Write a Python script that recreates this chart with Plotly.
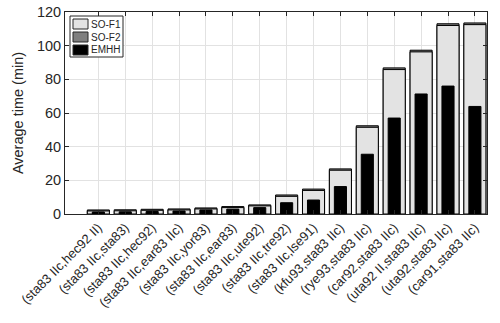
import plotly.graph_objects as go

categories = [
    "(sta83 IIc,hec92 II)", "(sta83 IIc,sta83)", "(sta83 IIc,hec92)",
    "(sta83 IIc,ear83 IIc)", "(sta83 IIc,yor83)", "(sta83 IIc,ear83)",
    "(sta83 IIc,ute92)", "(sta83 IIc,tre92)", "(sta83 IIc,lse91)",
    "(kfu93,sta83 IIc)", "(rye93,sta83 IIc)", "(car92,sta83 IIc)",
    "(uta92 II,sta83 IIc)", "(uta92,sta83 IIc)", "(car91,sta83 IIc)",
]
so_f1 = [1.8, 1.9, 2.2, 2.4, 3.0, 3.8, 4.8, 10.5, 14.0, 26.0, 51.5, 85.8, 96.3, 112.0, 112.5]
so_f2 = [2.4, 2.5, 2.8, 3.0, 3.6, 4.4, 5.4, 11.3, 14.8, 26.8, 52.4, 86.8, 97.3, 113.0, 113.5]
emhh = [1.2, 1.3, 1.5, 1.8, 2.4, 2.9, 3.8, 6.7, 8.3, 16.3, 35.5, 57.0, 71.3, 76.0, 63.9]
y_ticks = [0, 20, 40, 60, 80, 100, 120]
series_names = ["SO-F1", "SO-F2", "EMHH"]
series_colors = ["#e3e3e3", "#7f7f7f", "#000000"]

axis_color = "#262626"
W, H = 500, 323
ML, MR, MT, MB = 65, 13, 12, 109
PW, PH = W - ML - MR, H - MT - MB


def px(x):
    return (x - ML) / PW


def py(y):
    return (H - MB - y) / PH


fig = go.Figure()
fig.add_trace(go.Bar(x=categories, y=so_f2, name="SO-F2", width=0.82,
                     marker=dict(color=series_colors[1], line=dict(color="black", width=1))))
fig.add_trace(go.Bar(x=categories, y=so_f1, name="SO-F1", width=0.82,
                     marker=dict(color=series_colors[0], line=dict(color="black", width=1))))
fig.add_trace(go.Bar(x=categories, y=emhh, name="EMHH", width=0.45,
                     marker=dict(color=series_colors[2], line=dict(color="black", width=1))))

# Custom compact legend (MATLAB style)
shapes = [dict(type="rect", xref="paper", yref="paper",
               x0=px(70), x1=px(123), y0=py(57), y1=py(16),
               line=dict(color=axis_color, width=1), fillcolor="white", layer="above")]
annotations = []
for i, (nm, col) in enumerate(zip(series_names, series_colors)):
    cy = 24 + i * 13
    shapes.append(dict(type="rect", xref="paper", yref="paper",
                       x0=px(73), x1=px(88), y0=py(cy + 5), y1=py(cy - 5),
                       line=dict(color=axis_color, width=1), fillcolor=col, layer="above"))
    annotations.append(dict(text=nm, xref="paper", yref="paper", x=px(89), y=py(cy),
                            xanchor="left", yanchor="middle", showarrow=False,
                            font=dict(size=10, color=axis_color)))

fig.update_layout(
    width=W, height=H,
    barmode="overlay",
    paper_bgcolor="white", plot_bgcolor="white",
    margin=dict(l=ML, r=MR, t=MT, b=MB),
    font=dict(family="Liberation Sans, Arial, sans-serif", color=axis_color),
    showlegend=False,
    shapes=shapes, annotations=annotations,
)
fig.update_xaxes(
    range=[-1.24, 14.45], tickangle=-45, tickfont=dict(size=13), automargin=False,
    showline=True, linecolor=axis_color, linewidth=1, mirror="ticks",
    ticks="inside", ticklen=4, tickcolor=axis_color,
    showgrid=True, gridcolor="#e2e2e2", gridwidth=1,
)
fig.update_yaxes(
    range=[0, 120], tickvals=y_ticks, tickfont=dict(size=14.5), automargin=False,
    ticklabeloverflow="allow",
    title=dict(text="Average time (min)", font=dict(size=14.5), standoff=9),
    showline=True, linecolor=axis_color, linewidth=1, mirror="ticks",
    ticks="inside", ticklen=4, tickcolor=axis_color,
    showgrid=True, gridcolor="#e2e2e2", gridwidth=1, zeroline=False,
)
fig.write_html(
    "out.html",
    config={"displayModeBar": False},
    post_script="document.body.style.margin='0';document.body.style.overflow='hidden';",
)
